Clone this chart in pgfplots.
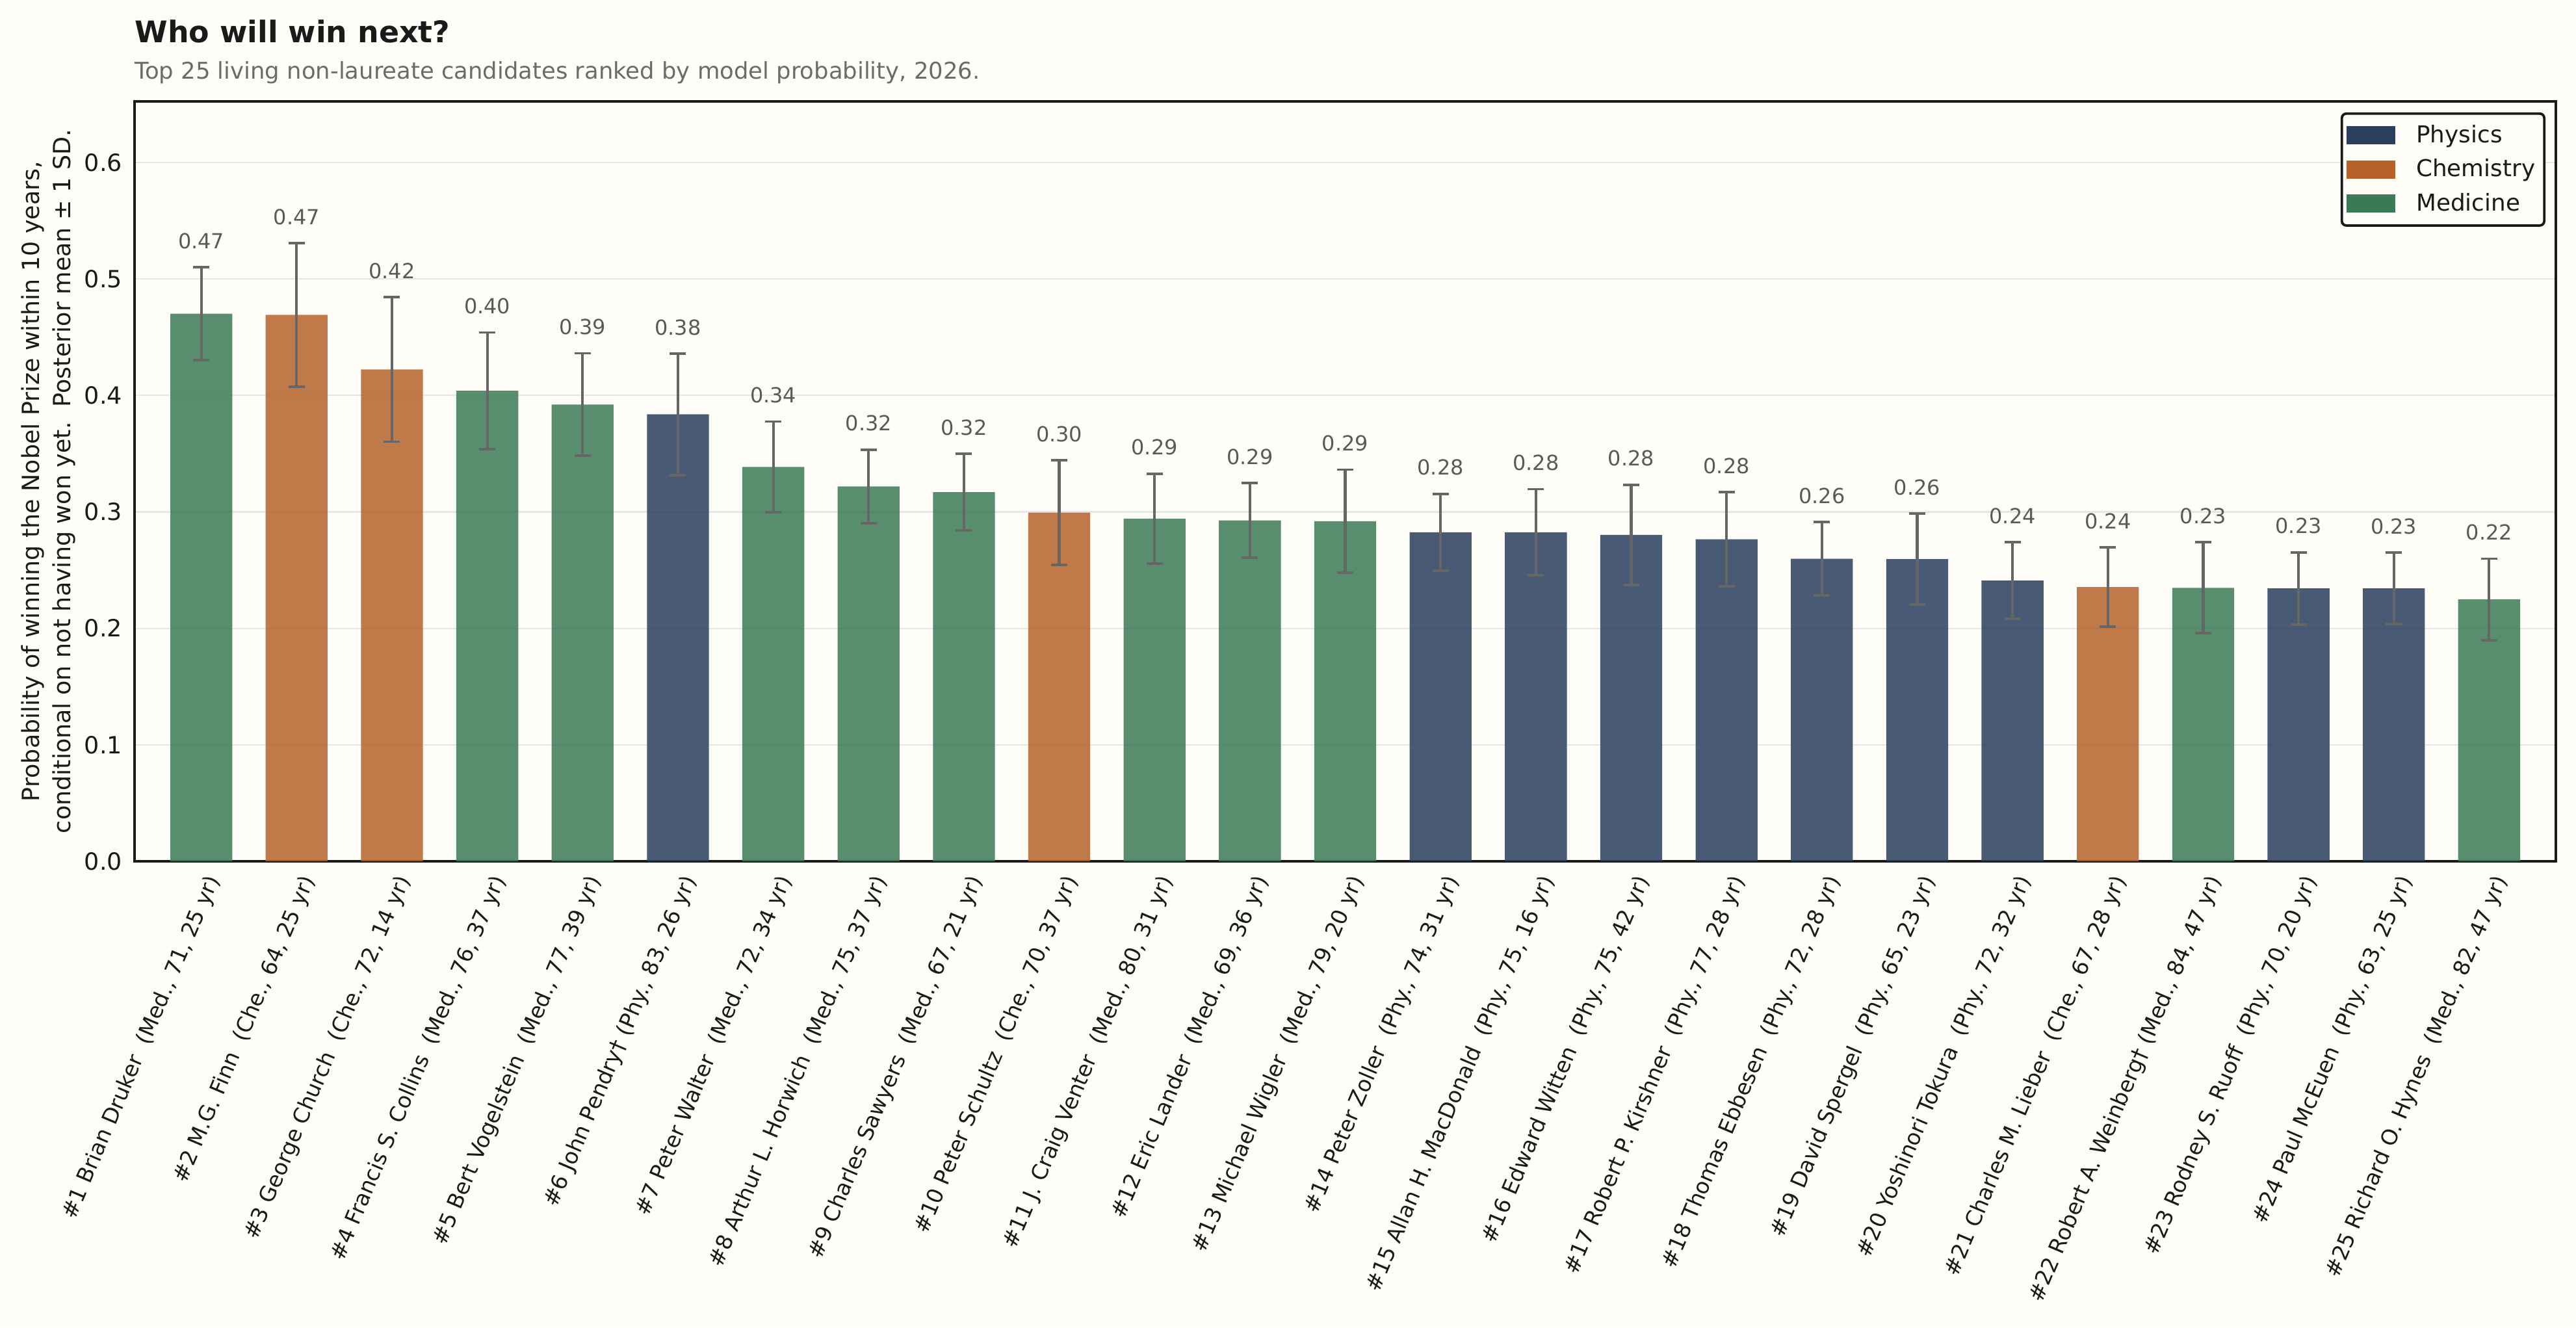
\documentclass[border=0pt]{standalone}
\usepackage{fontspec}
\setmainfont{DejaVu Sans}
\usepackage{pgfplots}
\pgfplotsset{compat=1.18}
\usepackage{pgfplotstable}

\definecolor{bgc}{HTML}{FFFDF8}
\definecolor{phy}{HTML}{2A3F5E}
\definecolor{che}{HTML}{B5622A}
\definecolor{med}{HTML}{3B7A57}
\definecolor{errc}{HTML}{666666}
\definecolor{valc}{HTML}{5A5A5A}
\definecolor{gridc}{HTML}{E6E6E6}
\definecolor{ink}{HTML}{1A1A1A}
\definecolor{subc}{HTML}{6B6B6B}

\pgfplotstableread{
x y err lab
5 0.3837 0.0520 0.38
13 0.2825 0.0330 0.28
14 0.2825 0.0370 0.28
15 0.2803 0.0430 0.28
16 0.2764 0.0405 0.28
17 0.2597 0.0315 0.26
18 0.2594 0.0390 0.26
19 0.2410 0.0330 0.24
22 0.2343 0.0310 0.23
23 0.2343 0.0307 0.23
}\tphy
\pgfplotstableread{
x y err lab
1 0.4691 0.0615 0.47
2 0.4223 0.0620 0.42
9 0.2993 0.0450 0.30
20 0.2354 0.0340 0.24
}\tche
\pgfplotstableread{
x y err lab
0 0.4701 0.0400 0.47
3 0.4040 0.0500 0.40
4 0.3922 0.0440 0.39
6 0.3386 0.0390 0.34
7 0.3218 0.0317 0.32
8 0.3169 0.0330 0.32
10 0.2942 0.0386 0.29
11 0.2926 0.0320 0.29
12 0.2920 0.0443 0.29
21 0.2348 0.0390 0.23
24 0.2248 0.0350 0.22
}\tmed

\pgfplotsset{
  barstyle/.style={ybar, bar width=0.65, bar shift=0pt, draw=none, fill=#1, fill opacity=0.85,
    error bars/.cd, y dir=both, y explicit,
    error bar style={draw=errc, line width=1.2pt, opacity=1},
    error mark options={rotate=90, draw=errc, line width=1.1pt, mark size=3.6pt, opacity=1}},
  valstyle/.style={only marks, mark=*, mark size=0pt, mark options={draw=none, fill=none},
    forget plot, point meta=explicit symbolic, nodes near coords,
    nodes near coords style={font=\fontsize{9.2}{11}\selectfont, text=valc, anchor=south, inner sep=0pt, yshift=8pt}},
}

\begin{document}
\begin{tikzpicture}
\fill[bgc] (0pt,0pt) rectangle (1141.34pt,588.1pt);
\useasboundingbox (0pt,0pt) rectangle (1141.34pt,588.1pt);
\node[anchor=base west, inner sep=0pt, font=\fontsize{13.2}{15}\selectfont\bfseries, text=ink] at (59.6pt,569.1pt) {Who will win next?};
\node[anchor=base west, inner sep=0pt, font=\fontsize{10.2}{12}\selectfont, text=subc] at (59.6pt,553.2pt) {Top 25 living non-laureate candidates ranked by model probability, 2026.};
\begin{axis}[
  at={(59.62pt,206.5pt)}, anchor=south west,
  scale only axis, width=1072.8pt, height=336.7pt,
  xmin=-0.7, xmax=24.7, ymin=0, ymax=0.6525,
  axis line style={draw=ink, line width=1.1pt},
  major tick length=0pt,
  ymajorgrids, grid style={draw=gridc, line width=0.6pt},
  ytick={0,0.1,0.2,0.3,0.4,0.5,0.6},
  yticklabel style={/pgf/number format/fixed, /pgf/number format/fixed zerofill, /pgf/number format/precision=1,
    /pgf/number format/assume math mode=true, font=\fontsize{10.5}{12.6}\selectfont, text=ink, xshift=-2pt},
  xtick={0,...,24},
  xticklabels={
    {\#1 Brian Druker\ \ (Med., 71, 25 yr)},
    {\#2 M.G. Finn\ \ (Che., 64, 25 yr)},
    {\#3 George Church\ \ (Che., 72, 14 yr)},
    {\#4 Francis S. Collins\ \ (Med., 76, 37 yr)},
    {\#5 Bert Vogelstein\ \ (Med., 77, 39 yr)},
    {\#6 John Pendry† (Phy., 83, 26 yr)},
    {\#7 Peter Walter\ \ (Med., 72, 34 yr)},
    {\#8 Arthur L. Horwich\ \ (Med., 75, 37 yr)},
    {\#9 Charles Sawyers\ \ (Med., 67, 21 yr)},
    {\#10 Peter Schultz\ \ (Che., 70, 37 yr)},
    {\#11 J. Craig Venter\ \ (Med., 80, 31 yr)},
    {\#12 Eric Lander\ \ (Med., 69, 36 yr)},
    {\#13 Michael Wigler\ \ (Med., 79, 20 yr)},
    {\#14 Peter Zoller\ \ (Phy., 74, 31 yr)},
    {\#15 Allan H. MacDonald\ \ (Phy., 75, 16 yr)},
    {\#16 Edward Witten\ \ (Phy., 75, 42 yr)},
    {\#17 Robert P. Kirshner\ \ (Phy., 77, 28 yr)},
    {\#18 Thomas Ebbesen\ \ (Phy., 72, 28 yr)},
    {\#19 David Spergel\ \ (Phy., 65, 23 yr)},
    {\#20 Yoshinori Tokura\ \ (Phy., 72, 32 yr)},
    {\#21 Charles M. Lieber\ \ (Che., 67, 28 yr)},
    {\#22 Robert A. Weinberg† (Med., 84, 47 yr)},
    {\#23 Rodney S. Ruoff\ \ (Phy., 70, 20 yr)},
    {\#24 Paul McEuen\ \ (Phy., 63, 25 yr)},
    {\#25 Richard O. Hynes\ \ (Med., 82, 47 yr)}},
  xticklabel style={xshift=1.4pt, yshift=-5pt, rotate=67, anchor=north east, inner sep=0pt,
    font=\fontsize{9.6}{11.5}\selectfont, text=ink},
  ylabel={Probability of winning the Nobel Prize within 10 years,\\conditional on not having won yet.\ \ Posterior mean ± 1 SD.},
  ylabel style={at={(axis description cs:-0.0357,0.5)}, anchor=center, align=center,
    font=\fontsize{10.5}{13.8}\selectfont, text=ink},
  legend style={at={(1,1)}, anchor=north east, xshift=-4.6pt, yshift=-4.9pt,
    draw=ink, line width=1.1pt, rounded corners=2pt, fill=bgc,
    font=\fontsize{10.3}{12}\selectfont, text=ink, row sep=1.8pt, inner xsep=2pt, inner ysep=3pt},
  legend cell align=left,
  legend image code/.code={\fill[#1, fill opacity=1, draw=none, sharp corners] (0pt,-4pt) rectangle (21.6pt,4pt); \path (29pt,0pt);},
]
\addplot[barstyle=phy] table[x=x, y=y, y error=err]{\tphy};
\addplot[barstyle=che] table[x=x, y=y, y error=err]{\tche};
\addplot[barstyle=med] table[x=x, y=y, y error=err]{\tmed};
\legend{Physics, Chemistry, Medicine}
\addplot[valstyle] table[x=x, y expr=\thisrow{y}+\thisrow{err}, meta=lab]{\tphy};
\addplot[valstyle] table[x=x, y expr=\thisrow{y}+\thisrow{err}, meta=lab]{\tche};
\addplot[valstyle] table[x=x, y expr=\thisrow{y}+\thisrow{err}, meta=lab]{\tmed};
\end{axis}
\end{tikzpicture}
\end{document}
